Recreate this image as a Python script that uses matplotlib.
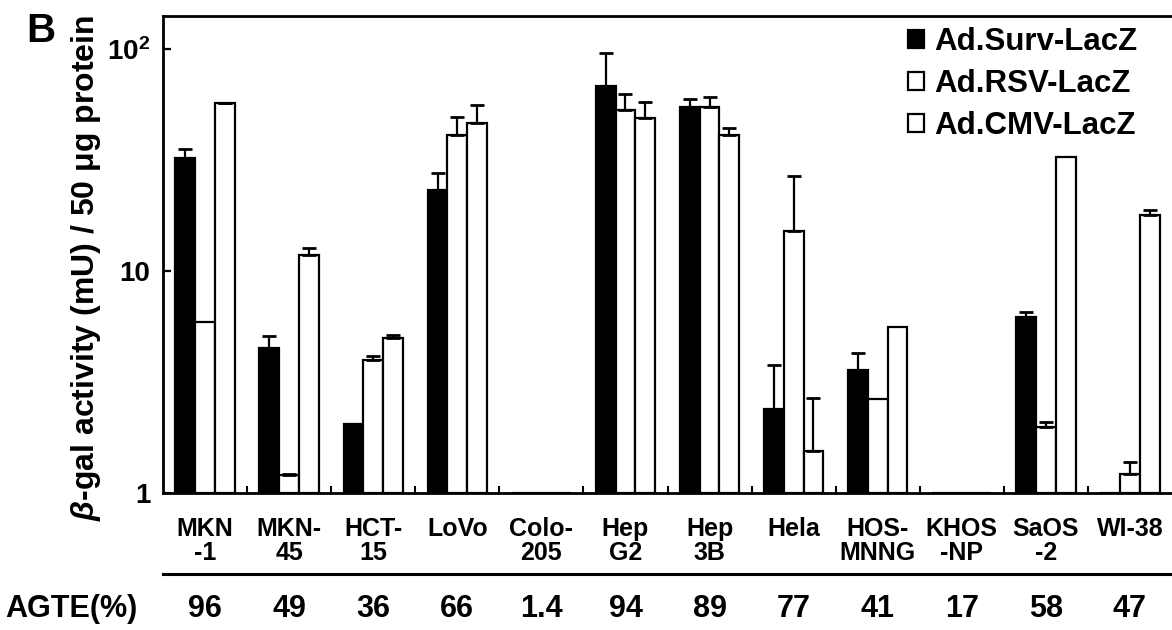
import numpy as np
import matplotlib
matplotlib.use("Agg")
import matplotlib.pyplot as plt
from matplotlib.lines import Line2D

plt.rcParams['font.family'] = ['Liberation Sans', 'DejaVu Sans']
plt.rcParams['font.weight'] = 'bold'
plt.rcParams['mathtext.fontset'] = 'custom'
plt.rcParams['mathtext.it'] = 'Liberation Sans:italic:bold'
plt.rcParams['mathtext.rm'] = 'Liberation Sans:bold'
plt.rcParams['mathtext.bf'] = 'Liberation Sans:bold'

# ---------------- data ----------------
cell_lines = ["MKN\n-1", "MKN-\n45", "HCT-\n15", "LoVo", "Colo-\n205", "Hep\nG2",
              "Hep\n3B", "Hela", "HOS-\nMNNG", "KHOS\n-NP", "SaOS\n-2", "WI-38"]
series_names = ["Ad.Surv-LacZ", "Ad.RSV-LacZ", "Ad.CMV-LacZ"]
surv = [32.4, 4.5, 2.04, 23.1, 1.0, 68.1, 54.6, 2.39, 3.59, 1.0, 6.2, 1.0]
surv_err = [2.9, 0.6, 0.0, 4.6, 0.0, 28.0, 4.7, 1.4, 0.7, 0.0, 0.35, 0.0]
rsv = [5.9, 1.2, 3.97, 40.9, 1.0, 53.0, 54.9, 15.1, 2.65, 1.0, 1.99, 1.22]
rsv_err = [0.0, 0.02, 0.17, 8.6, 0.0, 10.0, 6.0, 11.6, 0.0, 0.0, 0.1, 0.16]
cmv = [56.9, 11.75, 4.97, 46.5, 1.0, 48.7, 40.9, 1.55, 5.58, 1.0, 32.5, 17.8]
cmv_err = [0.5, 0.95, 0.18, 9.4, 0.0, 9.1, 3.3, 1.12, 0.0, 0.0, 0.0, 1.1]
agte = ["96", "49", "36", "66", "1.4", "94", "89", "77", "41", "17", "58", "47"]
ytick_vals = [1, 10, 100]
ytick_labels = ["1", "10", r"$\mathrm{10^2}$"]

W, H = 1172, 630
fig = plt.figure(figsize=(W / 100, H / 100), dpi=100)
ax = fig.add_axes([163 / W, 1 - 493 / H, 1 - 163 / W, (493 - 16) / H])

x = np.arange(len(cell_lines))
w = 0.235
series = [(surv, surv_err, 'black'), (rsv, rsv_err, 'white'), (cmv, cmv_err, 'white')]
handles = []
for i, (vals, errs, col) in enumerate(series):
    vals = np.array(vals)
    errs = np.array(errs)
    pos = x + (i - 1) * w
    b = ax.bar(pos, vals - 1, bottom=1, width=w, color=col, edgecolor='black',
               linewidth=1.6, label=series_names[i], zorder=2)
    handles.append(b)
    m = errs > 0
    ax.errorbar(pos[m], vals[m], yerr=[np.zeros(m.sum()), errs[m]], fmt='none',
                ecolor='black', elinewidth=1.6, capsize=5, capthick=2, zorder=3)

ax.set_yscale('log')
ax.set_ylim(1, 140.8)
ax.set_xlim(-0.5, 11.5)

ax.set_yticks(ytick_vals)
ax.set_yticklabels(ytick_labels, fontsize=20, fontweight='bold')
ax.yaxis.set_minor_locator(matplotlib.ticker.NullLocator())
ax.tick_params(axis='y', direction='in', length=6, width=1.6, pad=9)

ax.set_xticks(x)
ax.set_xticklabels(cell_lines, fontsize=18, fontweight='bold',
                   family=['Liberation Sans Narrow', 'Liberation Sans'], linespacing=1.0)
ax.tick_params(axis='x', which='major', length=0, pad=17)
ax.set_xticks(x[:-1] + 0.5, minor=True)
ax.tick_params(axis='x', which='minor', direction='in', length=5, width=1.5)

for s in ['left', 'top', 'bottom']:
    ax.spines[s].set_linewidth(2)
ax.spines['right'].set_visible(False)

leg = ax.legend(handles=handles, loc='upper left', bbox_to_anchor=(908 / W, 1 - 27 / H),
                bbox_transform=fig.transFigure, frameon=False, fontsize=22.5,
                handlelength=0.5, handleheight=0.5, handletextpad=0.35,
                labelspacing=0.38, borderpad=0, borderaxespad=0)
for t in leg.get_texts():
    t.set_fontweight('bold')

# y label
fig.text(86 / W, 1 - 268 / H, r'$\beta$-gal activity (mU) / 50 μg protein',
         rotation=90, ha='center', va='center', fontsize=23, fontweight='bold')
# panel letter
fig.text(26 / W, 1 - 12 / H, 'B', ha='left', va='top', fontsize=29, fontweight='bold')

# separator line
fig.add_artist(Line2D([163 / W, 1.0], [1 - 574 / H, 1 - 574 / H], color='black',
                      linewidth=2.2, transform=fig.transFigure))

# AGTE row
fig.text(5 / W, 1 - 609 / H, 'AGTE(%)', ha='left', va='center', fontsize=22, fontweight='bold')
trans = matplotlib.transforms.blended_transform_factory(ax.transData, fig.transFigure)
for xi, val in zip(x, agte):
    ax.text(xi, 1 - 609 / H, val, transform=trans, ha='center', va='center',
            fontsize=22, fontweight='bold')

fig.savefig('out.png', dpi=100)
